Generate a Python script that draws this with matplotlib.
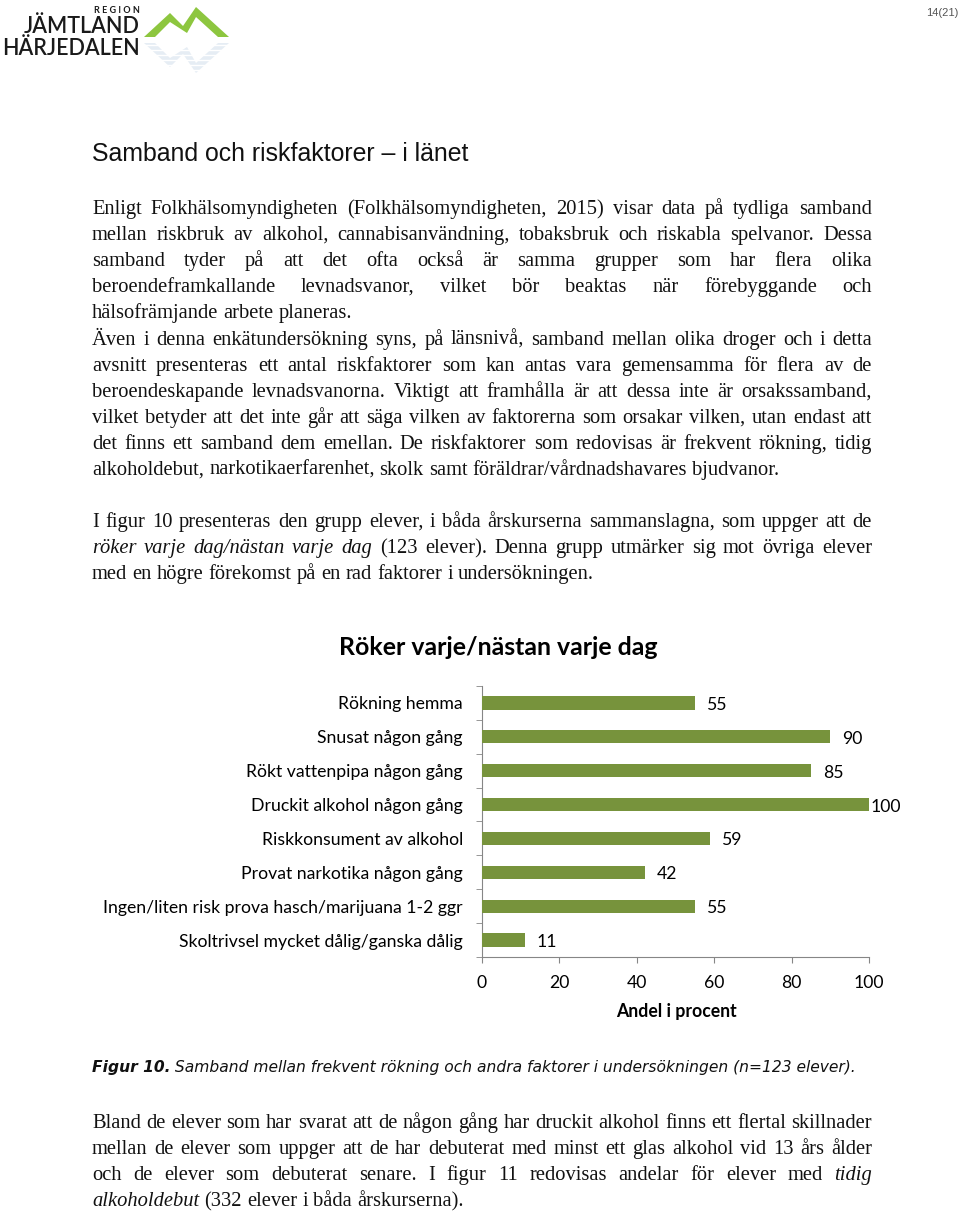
import matplotlib
matplotlib.use("Agg")
import matplotlib.pyplot as plt
from matplotlib.patches import Polygon
from matplotlib import font_manager

# ---------------- data ----------------
categories = [
    "Rökning hemma",
    "Snusat någon gång",
    "Rökt vattenpipa någon gång",
    "Druckit alkohol någon gång",
    "Riskkonsument av alkohol",
    "Provat narkotika någon gång",
    "Ingen/liten risk prova hasch/marijuana 1-2 ggr",
    "Skoltrivsel mycket dålig/ganska dålig",
]
values = [55, 90, 85, 100, 59, 42, 55, 11]
x_ticks = [0, 20, 40, 60, 80, 100]
chart_title = "Röker varje/nästan varje dag"
x_label = "Andel i procent"

heading = "Samband och riskfaktorer – i länet"
page_no = "14(21)"
caption_bold = "Figur 10."
caption_rest = "Samband mellan frekvent rökning och andra faktorer i undersökningen (n=123 elever)."

# (text, justified?) ; *...* marks italic words
body_top = [
    ("Enligt Folkhälsomyndigheten (Folkhälsomyndigheten, 2015) visar data på tydliga samband", True),
    ("mellan riskbruk av alkohol, cannabisanvändning, tobaksbruk och riskabla spelvanor. Dessa", True),
    ("samband tyder på att det ofta också är samma grupper som har flera olika", True),
    ("beroendeframkallande levnadsvanor, vilket bör beaktas när förebyggande och", True),
    ("hälsofrämjande arbete planeras.", False),
    ("Även i denna enkätundersökning syns, på länsnivå, samband mellan olika droger och i detta", True),
    ("avsnitt presenteras ett antal riskfaktorer som kan antas vara gemensamma för flera av de", True),
    ("beroendeskapande levnadsvanorna. Viktigt att framhålla är att dessa inte är orsakssamband,", True),
    ("vilket betyder att det inte går att säga vilken av faktorerna som orsakar vilken, utan endast att", True),
    ("det finns ett samband dem emellan. De riskfaktorer som redovisas är frekvent rökning, tidig", True),
    ("alkoholdebut, narkotikaerfarenhet, skolk samt föräldrar/vårdnadshavares bjudvanor.", False),
    ("I figur 10 presenteras den grupp elever, i båda årskurserna sammanslagna, som uppger att de", True),
    ("*röker varje dag/nästan varje dag* (123 elever). Denna grupp utmärker sig mot övriga elever", True),
    ("med en högre förekomst på en rad faktorer i undersökningen.", False),
]
body_bottom = [
    ("Bland de elever som har svarat att de någon gång har druckit alkohol finns ett flertal skillnader", True),
    ("mellan de elever som uppger att de har debuterat med minst ett glas alkohol vid 13 års ålder", True),
    ("och de elever som debuterat senare. I figur 11 redovisas andelar för elever med *tidig*", True),
    ("*alkoholdebut* (332 elever i båda årskurserna).", False),
]

# ---------------- layout ----------------
W, H = 960, 1214
fig = plt.figure(figsize=(W / 100, H / 100), dpi=100)
fig.patch.set_facecolor("white")
bg = fig.add_axes([0, 0, 1, 1])
bg.set_xlim(0, W)
bg.set_ylim(H, 0)
bg.axis("off")
renderer = fig.canvas.get_renderer()

def avail(names):
    have = {f.name for f in font_manager.fontManager.ttflist}
    return [n for n in names if n in have] or ["DejaVu Sans"]

SERIF = avail(["Liberation Serif", "DejaVu Serif"])
SANS = avail(["Liberation Sans Narrow", "Liberation Sans"])
CAL = avail(["Lato", "Open Sans"])
GEO = avail(["Lato", "Open Sans"])
VERD = ["DejaVu Sans"]


def wpx(t):
    return t.get_window_extent(renderer).width


def fit_size(text, family, target, weight="normal", style="normal"):
    t = bg.text(0, 0, text, fontsize=10, family=family, weight=weight, style=style)
    w = wpx(t)
    t.remove()
    return 10 * target / w


def parse(s):
    out, ital = [], False
    for w in s.split(" "):
        if w.startswith("*"):
            ital = True
        out.append((w.strip("*"), ital))
        if w.endswith("*"):
            ital = False
    return out


BODY_FS = fit_size("alkoholdebut, narkotikaerfarenhet, skolk samt föräldrar/vårdnadshavares bjudvanor.",
                   SERIF, 691)
_a = bg.text(0, 0, "n n", fontsize=BODY_FS, family=SERIF)
_b = bg.text(0, 0, "nn", fontsize=BODY_FS, family=SERIF)
SPACE = wpx(_a) - wpx(_b)
_a.remove(); _b.remove()


def draw_line(s, y, justify, x0=92, x1=872):
    words = parse(s)
    arts = [bg.text(0, y, w, fontsize=BODY_FS, family=SERIF,
                    style="italic" if it else "normal", va="baseline", ha="left",
                    color="#111111") for w, it in words]
    widths = [wpx(t) for t in arts]
    gap = (x1 - x0 - sum(widths)) / (len(arts) - 1) if (justify and len(arts) > 1) else SPACE
    x = x0
    for t, w in zip(arts, widths):
        t.set_x(x)
        x += w + gap


top_baselines = [214, 240, 266, 292, 318, 345, 371, 397, 423, 449, 475, 527, 553, 579]
for (s, j), y in zip(body_top, top_baselines):
    draw_line(s, y, j)
bottom_baselines = [1128, 1154, 1180, 1206]
for (s, j), y in zip(body_bottom, bottom_baselines):
    draw_line(s, y, j)

# heading
hfs = fit_size(heading, SANS, 380)
bg.text(92, 161, heading, fontsize=hfs, family=SANS, va="baseline", color="#111111")

# page number
bg.text(958, 13, page_no, fontsize=8, family=["Liberation Sans"], ha="right", va="center", color="#555555")

# logo
green = "#8DC63F"
mount = [(144, 37), (170, 13), (183, 26), (196, 7), (229, 37), (218, 37), (196, 17),
         (187, 33), (170, 22), (155, 37)]
bg.add_patch(Polygon(mount, closed=True, facecolor=green, edgecolor="none"))
refl = [(x, 78 - y + 2) for x, y in mount]
bg.add_patch(Polygon(refl, closed=True, facecolor="#e6edf4", edgecolor="none"))
for yy in range(45, 72, 5):
    bg.plot([140, 235], [yy, yy], color="white", lw=1.0)
lfs = fit_size("HÄRJEDALEN", GEO, 137, weight="semibold")
bg.text(140, 55, "HÄRJEDALEN", fontsize=lfs, family=GEO, weight="semibold", ha="right",
        va="baseline", color="#1a1a1a")
bg.text(140, 33, "JÄMTLAND", fontsize=lfs, family=GEO, weight="semibold", ha="right",
        va="baseline", color="#1a1a1a")
bg.text(140, 13, "R E G I O N", fontsize=lfs * 0.42, family=GEO, weight="bold", ha="right",
        va="baseline", color="#1a1a1a")

# caption
cfs = fit_size(caption_bold + " " + caption_rest, VERD, 756, style="italic")
cb = bg.text(92, 1072, caption_bold, fontsize=cfs, family=VERD, style="italic", weight="bold",
             va="baseline", color="#111111")
cw = wpx(cb)
bg.text(92 + cw, 1072, " " + caption_rest, fontsize=cfs, family=VERD, style="italic",
        va="baseline", color="#111111")

# ---------------- chart ----------------
cat_fs = fit_size(categories[6], CAL, 359)
tfs = fit_size(chart_title, CAL, 319, weight="bold")
bg.text(498, 655, chart_title, fontsize=tfs, family=CAL, weight="bold", ha="center", va="baseline")
bg.text(676, 1017, x_label, fontsize=cat_fs, family=CAL, weight="bold", ha="center", va="baseline")

ax = fig.add_axes([482 / W, 1 - 957 / H, 387 / W, 271 / H])
ypos = list(range(len(categories)))
ax.barh(ypos, values, height=0.39, color="#77933C", zorder=3)
ax.set_xlim(0, 100)
ax.set_ylim(len(categories) - 0.5, -0.5)
ax.set_xticks(x_ticks)
ax.set_xticklabels([str(v) for v in x_ticks], family=CAL, fontsize=cat_fs)
ax.set_yticks(ypos)
ax.set_yticklabels(categories, family=CAL, fontsize=cat_fs)
ax.set_yticks([i - 0.5 for i in range(len(categories) + 1)], minor=True)
ax.tick_params(axis="y", which="major", length=0, pad=13.7)
ax.tick_params(axis="y", which="minor", length=4, color="#868686", direction="out")
ax.tick_params(axis="x", length=4, color="#868686", direction="out", pad=9)
for sp in ["top", "right"]:
    ax.spines[sp].set_visible(False)
for sp in ["left", "bottom"]:
    ax.spines[sp].set_color("#868686")
ax.patch.set_alpha(0)
for i, v in zip(ypos, values):
    off = 12 if v < 100 else 2
    ax.annotate(str(v), (v, i), xytext=(off, -2), textcoords="offset pixels",
                va="center", ha="left", family=CAL, fontsize=cat_fs, annotation_clip=False)

fig.savefig("out.png", dpi=100)
